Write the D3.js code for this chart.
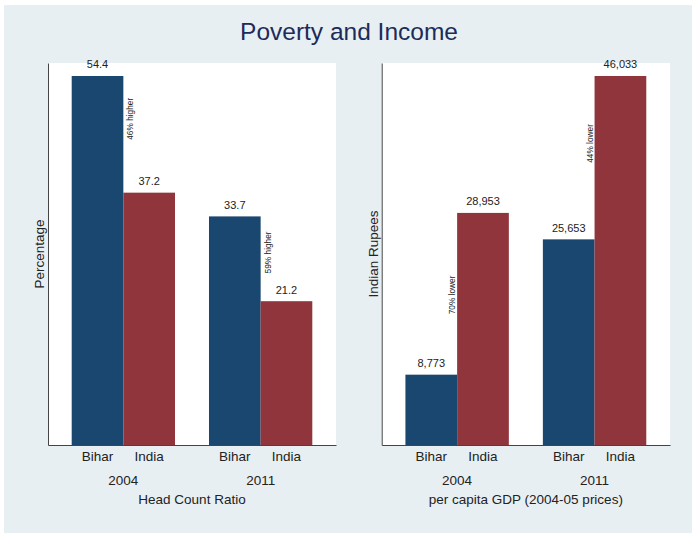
<!DOCTYPE html>
<html>
<head>
<meta charset="utf-8">
<script src="https://cdn.jsdelivr.net/npm/d3@7"></script>
<style>
  body { margin: 0; background: #fff; }
  svg { display: block; font-family: "Liberation Sans", Arial, Helvetica, sans-serif; }
</style>
</head>
<body>
<div id="chart"></div>
<script>
// data
const years = ["2004", "2011"];
const regions = ["Bihar", "India"];
const povertyValues = [[54.4, 37.2], [33.7, 21.2]];      // head count ratio, %
const gdpValues = [[8773, 28953], [25653, 46033]];       // per capita GDP, rupees
const povertyNotes = [{ year: "2004", text: "46% higher", at: 45.0 },
                      { year: "2011", text: "59% higher", at: 25.3 }];
const gdpNotes = [{ year: "2004", text: "70% lower", at: 16300 },
                  { year: "2011", text: "44% lower", at: 35200 }];

const width = 692, height = 533;
const colors = { Bihar: "#1a476f", India: "#90353b" };

const svg = d3.select("#chart").append("svg")
    .attr("width", width)
    .attr("height", height);

// stata-ish graph region
svg.append("rect")
    .attr("x", 4).attr("y", 5)
    .attr("width", width - 4).attr("height", height - 5)
    .attr("fill", "#e8eff2");

svg.append("text")
    .attr("x", 349).attr("y", 40)
    .attr("text-anchor", "middle")
    .attr("font-size", 24.5)
    .attr("fill", "#1c2b5a")
    .text("Poverty and Income");

// one panel = one bar chart with its own y scale
const drawPanel = (values, notes, {
    left, right, top = 63, bottom = 445,
    yTitle, xTitle, fmt, yTitleX, noteSide
}) => {
    const g = svg.append("g");

    const rows = years.flatMap((y, i) => regions.map((r, j) => ({ year: y, region: r, value: values[i][j] })));
    const maxV = d3.max(rows, d => d.value);

    const x0 = d3.scaleBand().domain(years).range([left, right])
        .paddingInner(0.2476).paddingOuter(0.1726);
    const x1 = d3.scaleBand().domain(regions).range([0, x0.bandwidth()]);
    const y = d3.scaleLinear().domain([0, maxV * 1.0352]).range([bottom, top]);

    g.append("rect")
        .attr("x", left).attr("y", top)
        .attr("width", right - left).attr("height", bottom - top)
        .attr("fill", "#fff");

    g.selectAll("rect.bar")
        .data(rows)
        .join("rect")
        .attr("class", "bar")
        .attr("x", d => x0(d.year) + x1(d.region))
        .attr("y", d => y(d.value))
        .attr("width", x1.bandwidth())
        .attr("height", d => y(0) - y(d.value))
        .attr("fill", d => colors[d.region]);

    // value labels
    g.selectAll("text.val")
        .data(rows)
        .join("text")
        .attr("class", "val")
        .attr("x", d => x0(d.year) + x1(d.region) + x1.bandwidth() / 2)
        .attr("y", d => y(d.value) - 7.5)
        .attr("text-anchor", "middle")
        .attr("font-size", 11)
        .attr("fill", "#222")
        .text(d => fmt(d.value));

    // rotated annotations
    g.selectAll("text.note")
        .data(notes)
        .join("text")
        .attr("class", "note")
        .attr("transform", d => {
            const bx = x0(d.year) + x1("India") + (noteSide === "right" ? 10 : -2);
            return `translate(${bx},${y(d.at)}) rotate(-90)`;
        })
        .attr("font-size", 8.3)
        .attr("fill", "#222")
        .text(d => d.text);

    // axes
    const yAxis = d3.axisLeft(y).tickValues([]).tickSizeOuter(0);
    g.append("g").attr("transform", `translate(${left},0)`).call(yAxis)
        .select(".domain").attr("stroke", "#444");
    const xAxis = d3.axisBottom(d3.scaleLinear().range([left, right])).tickValues([]).tickSizeOuter(0);
    g.append("g").attr("transform", `translate(0,${bottom})`).call(xAxis)
        .select(".domain").attr("stroke", "#444");

    // category labels
    g.selectAll("text.cat")
        .data(rows)
        .join("text")
        .attr("class", "cat")
        .attr("x", d => x0(d.year) + x1(d.region) + x1.bandwidth() / 2)
        .attr("y", 461)
        .attr("text-anchor", "middle")
        .attr("font-size", 13.5)
        .attr("fill", "#222")
        .text(d => d.region);

    g.selectAll("text.yr")
        .data(years)
        .join("text")
        .attr("class", "yr")
        .attr("x", d => x0(d) + x0.bandwidth() / 2)
        .attr("y", 485)
        .attr("text-anchor", "middle")
        .attr("font-size", 13.5)
        .attr("fill", "#222")
        .text(d => d);

    g.append("text")
        .attr("x", (left + right) / 2)
        .attr("y", 504)
        .attr("text-anchor", "middle")
        .attr("font-size", 13.5)
        .attr("fill", "#222")
        .text(xTitle);

    g.append("text")
        .attr("transform", `translate(${yTitleX},${(top + bottom) / 2}) rotate(-90)`)
        .attr("text-anchor", "middle")
        .attr("font-size", 13.5)
        .attr("fill", "#222")
        .text(yTitle);
};

drawPanel(povertyValues, povertyNotes, {
    left: 48, right: 336,
    yTitle: "Percentage", xTitle: "Head Count Ratio",
    fmt: d3.format(".1f"), yTitleX: 44, noteSide: "right"
});

drawPanel(gdpValues, gdpNotes, {
    left: 381.7, right: 670,
    yTitle: "Indian Rupees", xTitle: "per capita GDP (2004-05 prices)",
    fmt: d3.format(","), yTitleX: 378, noteSide: "left"
});
</script>
</body>
</html>
